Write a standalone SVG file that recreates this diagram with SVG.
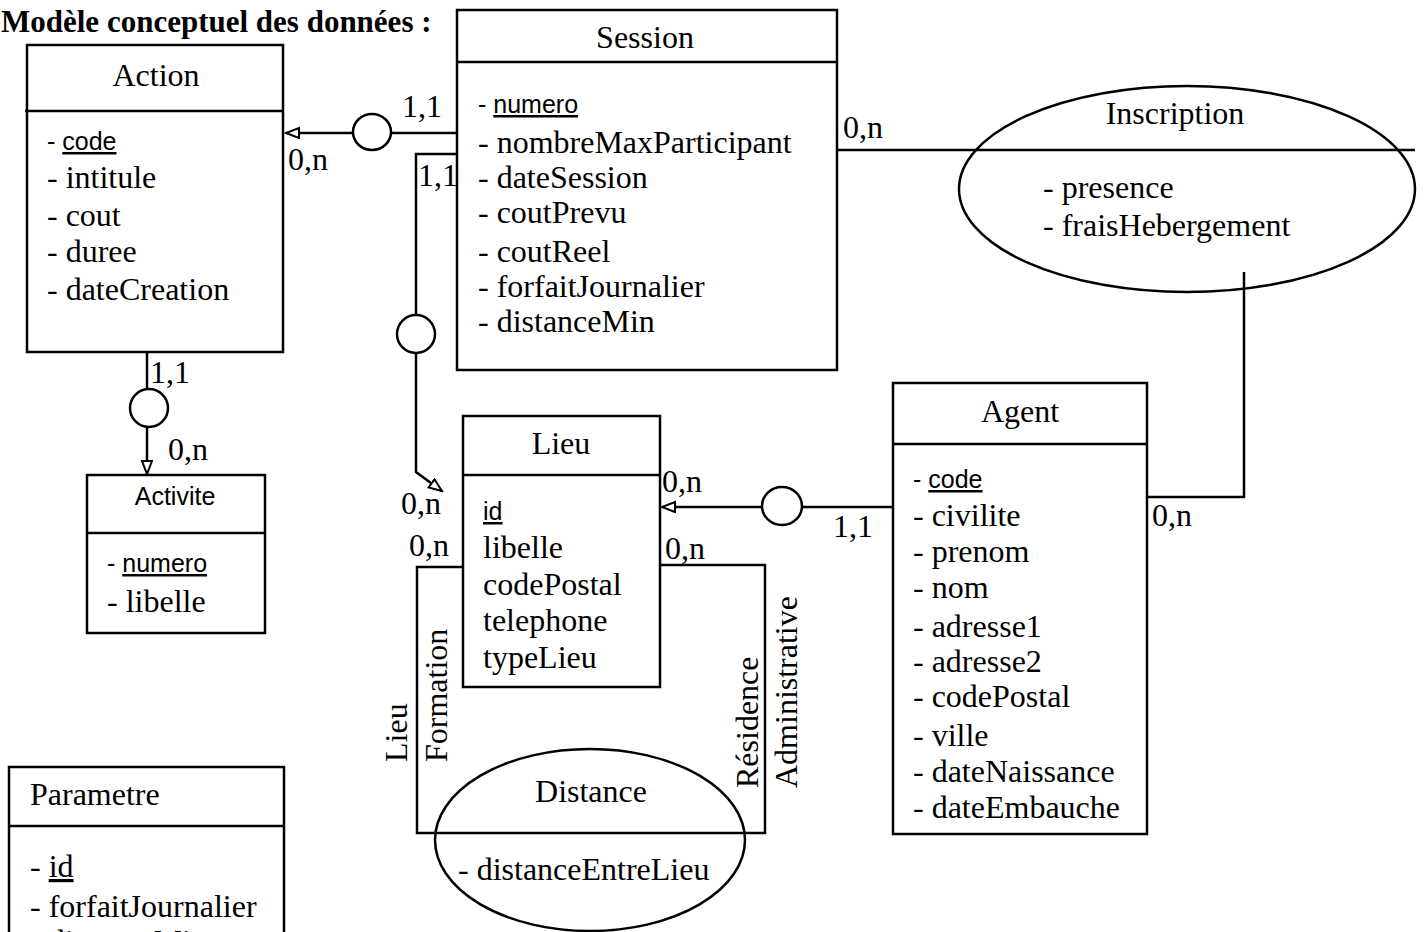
<svg xmlns="http://www.w3.org/2000/svg" width="1425" height="932" viewBox="0 0 1425 932">
<style>
.box{fill:#fff;stroke:#000;stroke-width:2.5}
.ln{fill:none;stroke:#000;stroke-width:2.5}
.rel{fill:#fff;stroke:#000;stroke-width:2.5}
.t{font-family:"Liberation Serif","Times New Roman",serif;font-size:32px;fill:#000}
.s{font-family:"Liberation Sans",Arial,sans-serif;font-size:25px;fill:#000}
.u{text-decoration:underline}
.c{text-anchor:middle}
.title{font-family:"Liberation Serif","Times New Roman",serif;font-size:31px;font-weight:bold;fill:#000}
</style>
<defs>
<marker id="arr" markerUnits="userSpaceOnUse" markerWidth="16" markerHeight="14" refX="14" refY="6" orient="auto">
<path d="M1,1 L14,6 L1,11 z" fill="#fff" stroke="#000" stroke-width="2"/>
</marker>
<clipPath id="clipRes"><rect x="700" y="657" width="100" height="200"/></clipPath>
</defs>

<text class="title" x="1" y="32">Modèle conceptuel des données :</text>

<g id="connectors">
<path class="ln" d="M457,133 H286" marker-end="url(#arr)"/>
<ellipse class="rel" cx="372" cy="132" rx="19" ry="18"/>
<path class="ln" d="M457,154 H416 V472 L442,491" marker-end="url(#arr)"/>
<ellipse class="rel" cx="416" cy="334" rx="19" ry="19"/>
<path class="ln" d="M147,352 V474" marker-end="url(#arr)"/>
<ellipse class="rel" cx="149" cy="408" rx="19" ry="19"/>
<path class="ln" d="M892,507 H662" marker-end="url(#arr)"/>
<ellipse class="rel" cx="782" cy="506" rx="20" ry="19"/>
<path class="ln" d="M837,150 H1415"/>
<path class="ln" d="M1147,497 H1244 V272"/>
<path class="ln" d="M463,567 H417 V833 H765 V565 H660"/>
<text class="t" x="402" y="117">1,1</text>
<text class="t" x="288" y="170">0,n</text>
<text class="t" x="418" y="186">1,1</text>
<text class="t" x="401" y="514">0,n</text>
<text class="t" x="150" y="383">1,1</text>
<text class="t" x="168" y="460">0,n</text>
<text class="t" x="662" y="492">0,n</text>
<text class="t" x="833" y="537">1,1</text>
<text class="t" x="843" y="138">0,n</text>
<text class="t" x="1152" y="526">0,n</text>
<text class="t" x="409" y="556">0,n</text>
<text class="t" x="665" y="559">0,n</text>
<text class="t" transform="translate(407,762) rotate(-90)">Lieu</text>
<text class="t" transform="translate(447,762) rotate(-90)">Formation</text>
<g clip-path="url(#clipRes)"><text class="t" transform="translate(758,788) rotate(-90)">Résidence</text></g>
<text class="t" transform="translate(797,788) rotate(-90)">Administrative</text>
</g>

<g id="action">
<rect class="box" x="27" y="45" width="256" height="307"/>
<line class="ln" x1="25" y1="111" x2="283" y2="111"/>
<text class="t c" x="156" y="86">Action</text>
<text class="s" x="47" y="150">- <tspan class="u">code</tspan></text>
<text class="t" x="47" y="188">- intitule</text>
<text class="t" x="47" y="226">- cout</text>
<text class="t" x="47" y="262">- duree</text>
<text class="t" x="47" y="300">- dateCreation</text>
</g>

<g id="session">
<rect class="box" x="457" y="10" width="380" height="360"/>
<line class="ln" x1="457" y1="62" x2="837" y2="62"/>
<text class="t c" x="645" y="48">Session</text>
<text class="s" x="478" y="113">- <tspan class="u">numero</tspan></text>
<text class="t" x="478" y="153">- nombreMaxParticipant</text>
<text class="t" x="478" y="188">- dateSession</text>
<text class="t" x="478" y="223">- coutPrevu</text>
<text class="t" x="478" y="262">- coutReel</text>
<text class="t" x="478" y="297">- forfaitJournalier</text>
<text class="t" x="478" y="332">- distanceMin</text>
</g>

<g id="inscription">
<ellipse class="rel" cx="1187" cy="189" rx="228" ry="103" style="fill:none"/>
<text class="t c" x="1175" y="124">Inscription</text>
<text class="t" x="1043" y="198">- presence</text>
<text class="t" x="1043" y="236">- fraisHebergement</text>
</g>

<g id="activite">
<rect class="box" x="87" y="475" width="178" height="158"/>
<line class="ln" x1="87" y1="533" x2="265" y2="533"/>
<text class="s c" x="175" y="505">Activite</text>
<text class="s" x="107" y="572">- <tspan class="u">numero</tspan></text>
<text class="t" x="107" y="612">- libelle</text>
</g>

<g id="lieu">
<rect class="box" x="463" y="416" width="197" height="271"/>
<line class="ln" x1="463" y1="475" x2="660" y2="475"/>
<text class="t c" x="561" y="454">Lieu</text>
<text class="s u" x="483" y="520">id</text>
<text class="t" x="483" y="558">libelle</text>
<text class="t" x="483" y="595">codePostal</text>
<text class="t" x="483" y="631">telephone</text>
<text class="t" x="483" y="668">typeLieu</text>
</g>

<g id="agent">
<rect class="box" x="893" y="383" width="254" height="451"/>
<line class="ln" x1="893" y1="444" x2="1147" y2="444"/>
<text class="t c" x="1020" y="422">Agent</text>
<text class="s" x="913" y="488">- <tspan class="u">code</tspan></text>
<text class="t" x="913" y="526">- civilite</text>
<text class="t" x="913" y="562">- prenom</text>
<text class="t" x="913" y="598">- nom</text>
<text class="t" x="913" y="637">- adresse1</text>
<text class="t" x="913" y="672">- adresse2</text>
<text class="t" x="913" y="707">- codePostal</text>
<text class="t" x="913" y="746">- ville</text>
<text class="t" x="913" y="782">- dateNaissance</text>
<text class="t" x="913" y="818">- dateEmbauche</text>
</g>

<g id="distance">
<ellipse class="rel" cx="590" cy="840" rx="155" ry="91" style="fill:none"/>
<text class="t c" x="591" y="802">Distance</text>
<text class="t" x="458" y="880">- distanceEntreLieu</text>
</g>

<g id="parametre">
<rect class="box" x="9" y="767" width="275" height="200"/>
<line class="ln" x1="9" y1="826" x2="284" y2="826"/>
<text class="t" x="30" y="805">Parametre</text>
<text class="t" x="30" y="877">- <tspan class="u">id</tspan></text>
<text class="t" x="30" y="917">- forfaitJournalier</text>
<text class="t" x="30" y="952">- distanceMin</text>
</g>
</svg>
